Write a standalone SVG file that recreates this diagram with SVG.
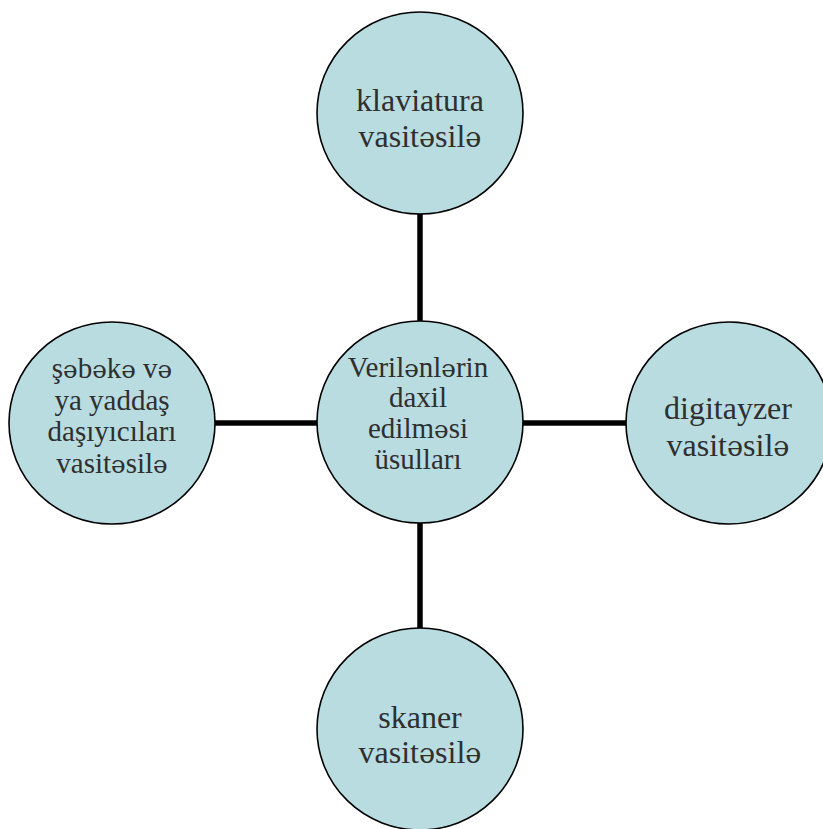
<svg xmlns="http://www.w3.org/2000/svg" width="823" height="829" viewBox="0 0 823 829">
<style>
.node{fill:#b8dce0;stroke:#000;stroke-width:1.6}
.big{font-family:"Liberation Serif","Times New Roman",serif;font-size:32px;fill:#2f2f2f;text-anchor:middle}
.small{font-family:"Liberation Serif","Times New Roman",serif;font-size:29px;fill:#2f2f2f;text-anchor:middle}
.e{font-family:"DejaVu Serif",serif;font-size:0.85em}
.conn{stroke:#000;stroke-width:5.5;fill:none}
</style>
<rect width="823" height="829" fill="#fff"/>
<g id="connectors">
<line class="conn" x1="420" y1="213" x2="420" y2="322"/>
<line class="conn" x1="420" y1="522" x2="420" y2="629"/>
<line class="conn" x1="214" y1="423" x2="318" y2="423"/>
<line class="conn" x1="522" y1="423" x2="627" y2="423"/>
</g>
<g id="node-top">
<ellipse class="node" cx="420" cy="113" rx="103" ry="101"/>
<text class="big" x="420" y="111">klaviatura</text>
<text class="big" x="420" y="147">vasit<tspan class="e">ə</tspan>sil<tspan class="e">ə</tspan></text>
</g>
<g id="node-center">
<ellipse class="node" cx="420" cy="422" rx="103" ry="101"/>
<text class="small" x="418" y="377">Veril<tspan class="e">ə</tspan>nl<tspan class="e">ə</tspan>rin</text>
<text class="small" x="418" y="407">daxil</text>
<text class="small" x="418" y="438">edilm<tspan class="e">ə</tspan>si</text>
<text class="small" x="418" y="469">üsulları</text>
</g>
<g id="node-left">
<ellipse class="node" cx="112" cy="423" rx="103" ry="101"/>
<text class="small" x="112" y="378">ş<tspan class="e">ə</tspan>b<tspan class="e">ə</tspan>k<tspan class="e">ə</tspan> v<tspan class="e">ə</tspan></text>
<text class="small" x="112" y="410">ya yaddaş</text>
<text class="small" x="112" y="441">daşıyıcıları</text>
<text class="small" x="112" y="473">vasit<tspan class="e">ə</tspan>sil<tspan class="e">ə</tspan></text>
</g>
<g id="node-right">
<ellipse class="node" cx="729" cy="423" rx="103" ry="101"/>
<text class="big" x="728" y="419">digitayzer</text>
<text class="big" x="728" y="456">vasit<tspan class="e">ə</tspan>sil<tspan class="e">ə</tspan></text>
</g>
<g id="node-bottom">
<ellipse class="node" cx="420" cy="729" rx="103" ry="101"/>
<text class="big" x="420" y="728">skaner</text>
<text class="big" x="420" y="763">vasit<tspan class="e">ə</tspan>sil<tspan class="e">ə</tspan></text>
</g>
</svg>
